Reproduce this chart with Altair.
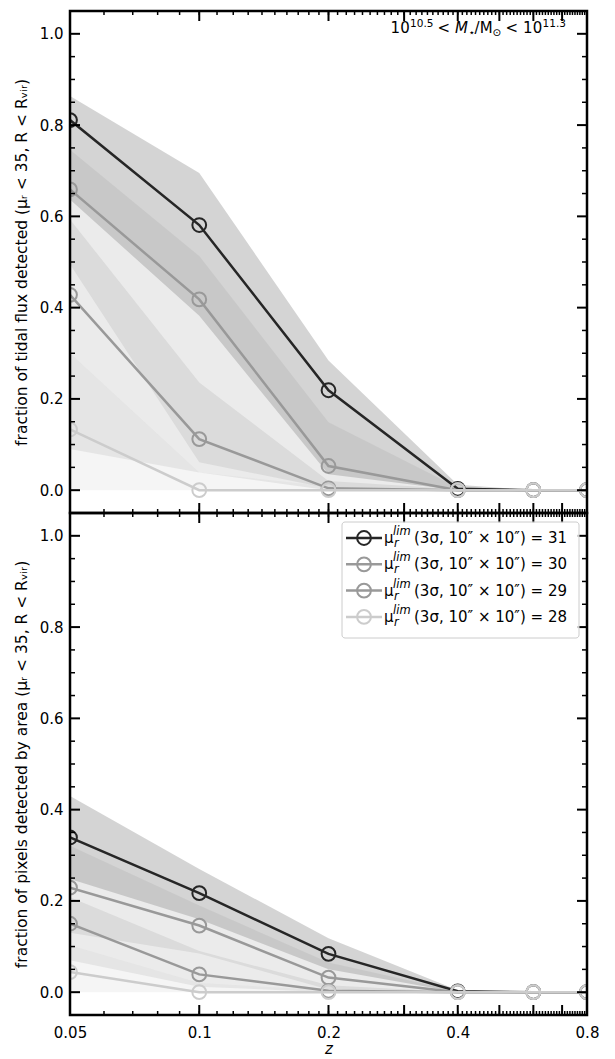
import altair as alt
import pandas as pd

# ---------------- data ----------------
z_vals = [0.05, 0.1, 0.2, 0.4, 0.6, 0.8]
series_names = ["31", "30", "29", "28"]
series_colors = ["#262626", "#999999", "#999999", "#cccccc"]

# top panel: fraction of tidal flux detected (median, lower, upper)
flux_med_31 = [0.811, 0.581, 0.219, 0.003, 0.0, 0.0]
flux_lo_31 = [0.637, 0.382, 0.035, 0.0, 0.0, 0.0]
flux_hi_31 = [0.864, 0.695, 0.284, 0.012, 0.0, 0.0]
flux_med_30 = [0.659, 0.418, 0.053, 0.0, 0.0, 0.0]
flux_lo_30 = [0.495, 0.061, 0.004, 0.0, 0.0, 0.0]
flux_hi_30 = [0.746, 0.513, 0.149, 0.006, 0.0, 0.0]
flux_med_29 = [0.428, 0.112, 0.004, 0.0, 0.0, 0.0]
flux_lo_29 = [0.090, 0.039, 0.0, 0.0, 0.0, 0.0]
flux_hi_29 = [0.593, 0.236, 0.020, 0.002, 0.0, 0.0]
flux_med_28 = [0.133, 0.0, 0.0, 0.0, 0.0, 0.0]
flux_lo_28 = [0.0, 0.0, 0.0, 0.0, 0.0, 0.0]
flux_hi_28 = [0.300, 0.039, 0.008, 0.0, 0.0, 0.0]

# bottom panel: fraction of pixels detected by area
area_med_31 = [0.339, 0.217, 0.084, 0.002, 0.0, 0.0]
area_lo_31 = [0.248, 0.160, 0.050, 0.0, 0.0, 0.0]
area_hi_31 = [0.430, 0.270, 0.118, 0.004, 0.0, 0.0]
area_med_30 = [0.229, 0.146, 0.032, 0.0, 0.0, 0.0]
area_lo_30 = [0.130, 0.085, 0.006, 0.0, 0.0, 0.0]
area_hi_30 = [0.321, 0.190, 0.065, 0.002, 0.0, 0.0]
area_med_29 = [0.150, 0.039, 0.003, 0.0, 0.0, 0.0]
area_lo_29 = [0.070, 0.012, 0.0, 0.0, 0.0, 0.0]
area_hi_29 = [0.208, 0.090, 0.015, 0.0, 0.0, 0.0]
area_med_28 = [0.044, 0.0, 0.0, 0.0, 0.0, 0.0]
area_lo_28 = [0.0, 0.0, 0.0, 0.0, 0.0, 0.0]
area_hi_28 = [0.103, 0.020, 0.004, 0.0, 0.0, 0.0]

x_tick_labels = [0.05, 0.1, 0.2, 0.4, 0.8]
x_long_ticks = [0.1, 0.2, 0.3, 0.4, 0.5, 0.6, 0.7]
x_short_ticks = [round(0.05 + 0.01 * i, 2) for i in range(1, 75)]
y_major_ticks = [0.0, 0.2, 0.4, 0.6, 0.8, 1.0]
y_minor_ticks = [0.05, 0.1, 0.15, 0.25, 0.3, 0.35, 0.45, 0.5, 0.55,
                 0.65, 0.7, 0.75, 0.85, 0.9, 0.95]

flux = {
    "31": (flux_med_31, flux_lo_31, flux_hi_31),
    "30": (flux_med_30, flux_lo_30, flux_hi_30),
    "29": (flux_med_29, flux_lo_29, flux_hi_29),
    "28": (flux_med_28, flux_lo_28, flux_hi_28),
}
area = {
    "31": (area_med_31, area_lo_31, area_hi_31),
    "30": (area_med_30, area_lo_30, area_hi_30),
    "29": (area_med_29, area_lo_29, area_hi_29),
    "28": (area_med_28, area_lo_28, area_hi_28),
}

ytitle_top = "fraction of tidal flux detected (μᵣ < 35, R < Rᵥᵢᵣ)"
ytitle_bottom = "fraction of pixels detected by area (μᵣ < 35, R < Rᵥᵢᵣ)"

# ---------------- layout ----------------
W, H = 517, 502
FONT = "DejaVu Sans"
NB = "\u00a0"
xscale = alt.Scale(type="log", domain=[0.05, 0.8], nice=False)
yscale = alt.Scale(domain=[-0.05, 1.05], nice=False, zero=False)
one = pd.DataFrame({"a": [0]})


def make_axes(ytitle, bottom):
    yaxis = alt.Axis(values=y_major_ticks, format=".1f", ticks=False, domain=False,
                     grid=False, labelPadding=7, labelFontSize=15, labelFlush=False,
                     labelOverlap=False, labelColor="black", title=ytitle,
                     titleFontSize=15.5, titleFontWeight="normal", titlePadding=10,
                     titleColor="black")
    if bottom:
        xaxis = alt.Axis(values=x_tick_labels, format=".2~f", ticks=False, domain=False,
                         grid=False, labelPadding=10, labelFontSize=15, labelFlush=False,
                         labelOverlap=False, labelColor="black", title="z",
                         titleFontSize=15, titleFontStyle="italic",
                         titleFontWeight="normal", titlePadding=1, titleColor="black")
        return xaxis, yaxis
    return None, yaxis


def X_enc(field, xaxis):
    if xaxis is None:
        return alt.X(field, scale=xscale, axis=None)
    return alt.X(field, scale=xscale, axis=xaxis)


def tick_layers(xaxis, yaxis):
    out = []
    ymaj = pd.DataFrame({"v": y_major_ticks})
    ymin = pd.DataFrame({"v": y_minor_ticks})
    xl = pd.DataFrame({"v": x_long_ticks})
    xs = pd.DataFrame({"v": x_short_ticks})
    Y = alt.Y("v:Q", scale=yscale, axis=yaxis)
    X = X_enc("v:Q", xaxis)
    for df, ln, sw in [(ymaj, 10, 2), (ymin, 5, 1.5)]:
        out.append(alt.Chart(df).mark_rule(color="black", strokeWidth=sw).encode(
            y=Y, x=alt.value(0), x2=alt.value(ln)))
        out.append(alt.Chart(df).mark_rule(color="black", strokeWidth=sw).encode(
            y=Y, x=alt.value(W - ln), x2=alt.value(W)))
    for df, ln, sw in [(xl, 10, 2), (xs, 4, 1.5)]:
        out.append(alt.Chart(df).mark_rule(color="black", strokeWidth=sw).encode(
            x=X, y=alt.value(H - ln), y2=alt.value(H)))
        out.append(alt.Chart(df).mark_rule(color="black", strokeWidth=sw).encode(
            x=X, y=alt.value(0), y2=alt.value(ln)))
    return out


def panel(data, ytitle, bottom):
    xaxis, yaxis = make_axes(ytitle, bottom)
    X = X_enc("z:Q", xaxis)
    layers = []
    for name, col in zip(series_names, series_colors):
        med, lo, hi = data[name]
        df = pd.DataFrame({"z": z_vals, "med": med, "lo": lo, "hi": hi})
        layers.append(alt.Chart(df).mark_area(color=col, opacity=0.2, clip=True).encode(
            x=X, y=alt.Y("lo:Q", scale=yscale, axis=yaxis), y2="hi:Q"))
    for name, col in zip(series_names, series_colors):
        med, lo, hi = data[name]
        df = pd.DataFrame({"z": z_vals, "med": med})
        Y = alt.Y("med:Q", scale=yscale, axis=yaxis)
        layers.append(alt.Chart(df).mark_line(color=col, strokeWidth=2.5, clip=True).encode(
            x=X, y=Y))
        layers.append(alt.Chart(df).mark_point(shape="circle", filled=False, size=190,
                                               strokeWidth=2, color=col, opacity=1,
                                               clip=True).encode(x=X, y=Y))
    layers += tick_layers(xaxis, yaxis)
    return layers


def text_piece(txt, x, y, size, style="normal", align="left", color="black"):
    return alt.Chart(one).mark_text(text=txt, align=align, baseline="alphabetic",
                                    fontSize=size, fontStyle=style, font=FONT,
                                    color=color).encode(x=alt.value(x), y=alt.value(y))


# annotation in top panel, pieces: (text, size, dy, style, width_px incl. gap after)
annot = [
    ("10", 15, 0, "normal", 19.5),
    ("10.5", 10.5, -6, "normal", 27.5),
    ("<", 15, 0, "normal", 17.5),
    ("M", 15, 0, "italic", 13.5),
    ("⋆", 10.5, 3, "normal", 6.0),
    ("/M", 15, 0, "normal", 18.0),
    ("⊙", 10.5, 3, "normal", 13.0),
    ("<", 15, 0, "normal", 17.5),
    ("10", 15, 0, "normal", 19.5),
    ("11.3", 10.5, -6, "normal", 23.4),
]
total_w = sum(w for *_, w in annot)
ax = 496 - total_w
annot_layers = []
for txt, s, dy, st, w in annot:
    annot_layers.append(text_piece(txt, ax, 22 + dy, s, st))
    ax += w

frame = alt.Chart(one).mark_rect(fill="transparent", stroke="black", strokeWidth=2.5).encode(
    x=alt.value(0), x2=alt.value(W), y=alt.value(0), y2=alt.value(H))

# legend in bottom panel
legend_layers = [alt.Chart(one).mark_rect(fill="white", fillOpacity=0.8, stroke="#cccccc",
                                          strokeWidth=1, cornerRadius=3).encode(
    x=alt.value(272), x2=alt.value(509), y=alt.value(9), y2=alt.value(125))]
for i, (name, col) in enumerate(zip(series_names, series_colors)):
    ry = 25 + i * 26.3
    legend_layers.append(alt.Chart(one).mark_rule(color=col, strokeWidth=2.5).encode(
        x=alt.value(276), x2=alt.value(312), y=alt.value(ry)))
    legend_layers.append(alt.Chart(one).mark_point(shape="circle", filled=False, size=190,
                                                   strokeWidth=2, color=col, opacity=1).encode(
        x=alt.value(294), y=alt.value(ry)))
    legend_layers.append(text_piece("μ", 314, ry + 5, 15))
    legend_layers.append(text_piece("r", 324, ry + 9, 11.5, "italic"))
    legend_layers.append(text_piece("lim", 323, ry - 3, 11.5, "italic"))
    legend_layers.append(text_piece("(3σ," + NB + "10″" + NB + "×" + NB + "10″)" + NB + "=" + NB + name,
                                    344, ry + 5, 15))

top = alt.layer(*(panel(flux, ytitle_top, False) + annot_layers + [frame])).properties(
    width=W, height=H)
bottom = alt.layer(*(panel(area, ytitle_bottom, True) + legend_layers + [frame])).properties(
    width=W, height=H)

chart = alt.vconcat(top, bottom, spacing=0, bounds="flush").properties(
    padding={"left": 5, "top": 1, "right": 5, "bottom": 0}
).configure_view(strokeWidth=0).configure(font=FONT)

chart.save("out.html", embed_options={"renderer": "svg", "actions": False})
